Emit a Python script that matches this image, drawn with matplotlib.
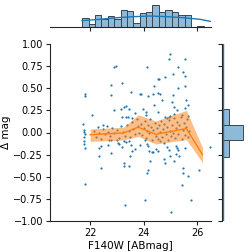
import matplotlib
matplotlib.use("Agg")
import matplotlib.pyplot as plt
import numpy as np

plt.rcParams['font.family'] = ['DejaVu Sans']

# ---------------- data ----------------
scatter_x = [
    24.98, 24.95, 25.55, 22.96, 22.88, 24.13, 25.29, 25.46, 25.10, 25.55, 24.80, 24.52, 24.56,
    22.77, 23.18, 24.39, 25.55, 25.29, 21.79, 21.79, 22.77, 23.53, 23.86, 23.90, 24.18, 24.36,
    24.54, 24.60, 25.11, 24.69, 25.59, 25.08, 23.33, 24.39, 25.66,
    22.06, 21.75,
    22.90, 23.15, 23.26, 23.45, 23.20, 23.33, 23.42, 23.57, 23.67, 23.96, 24.10, 24.10,
    24.54, 24.80, 24.88, 24.95, 25.14, 25.14, 25.26, 25.54, 25.66, 26.49,
    21.78, 21.78, 21.79, 21.78, 21.77, 21.78, 21.79, 21.80,
    22.35, 22.42, 22.65, 22.72, 22.78, 23.03, 23.08, 23.20, 23.28, 23.36, 23.45, 23.53, 23.56,
    23.69, 23.86, 24.05, 24.12, 24.17, 24.22, 24.30, 24.48, 24.55, 24.75, 24.87, 24.95, 25.20,
    25.26, 25.30, 25.54,
    22.33, 22.79, 23.50, 24.36, 22.42, 23.26, 23.26, 23.46, 24.24, 24.15, 24.12, 24.77, 24.80,
    24.98, 25.20, 25.32, 25.13, 25.48, 25.48, 25.65, 26.06, 25.44, 24.05, 23.32, 25.77, 25.04,
    22.15, 22.22, 22.28, 22.35, 22.41, 22.48, 22.55, 22.62, 22.68, 22.74, 22.83, 22.88,
    23.02, 23.08, 23.14, 23.22, 23.30, 23.38, 23.44, 23.50, 23.56, 23.62, 23.68, 23.74, 23.78, 23.84,
    23.90, 23.95, 24.00, 24.04, 24.08, 24.13, 24.18, 24.22, 24.27, 24.32, 24.36, 24.41, 24.45, 24.50,
    24.55, 24.58, 24.62, 24.66, 24.70, 24.73, 24.78, 24.82, 24.86, 24.90, 24.94, 24.98, 25.02, 25.06,
    25.10, 25.14, 25.18, 25.22, 25.26, 25.30, 25.34, 25.38, 25.42, 25.46, 25.50, 25.54, 25.58,
    25.62, 25.66, 25.70,
    24.25, 24.60, 25.00, 25.45, 23.00, 22.50,
]
scatter_y = [
    0.887, 0.827, 0.83, 0.755, 0.74, 0.74, 0.736, 0.68, 0.665, 0.64, 0.627, 0.60, 0.60,
    0.54, 0.56, 0.53, 0.52, 0.507, 0.43, 0.415, 0.42, 0.454, 0.44, 0.44, 0.41, 0.44,
    0.445, 0.44, 0.42, 0.37, 0.367, 0.34, 0.30, 0.31, 0.31,
    0.20, 0.096,
    0.254, 0.27, 0.29, 0.265, 0.17, 0.175, 0.18, 0.16, 0.217, 0.265, 0.23, 0.20,
    0.23, 0.17, 0.165, 0.17, 0.29, 0.21, 0.25, 0.277, 0.19, -0.167,
    0.03, 0.01, -0.017, -0.047, -0.093, -0.13, -0.18, -0.585,
    -0.18, -0.15, -0.14, -0.09, -0.09, -0.12, -0.125, -0.16, -0.10, -0.11, -0.095, -0.14, -0.205,
    -0.19, -0.137, -0.09, -0.13, -0.15, -0.205, -0.22, -0.19, -0.205, -0.12, -0.165, -0.20, -0.15,
    -0.175, -0.20, -0.175,
    -0.27, -0.23, -0.27, -0.22, -0.40, -0.345, -0.38, -0.38, -0.325, -0.42, -0.46, -0.30, -0.345,
    -0.265, -0.24, -0.265, -0.32, -0.40, -0.455, -0.49, -0.42, -0.59, -0.76, -0.815, -0.76, -0.90,
    0.02, -0.05, 0.06, 0.00, -0.07, 0.04, -0.02, 0.07, 0.01, -0.04, 0.05, -0.01,
    0.03, -0.06, 0.07, 0.01, -0.04, 0.09, 0.02, -0.05, 0.12, 0.04, -0.02, 0.15, 0.07, 0.00,
    0.10, -0.03, 0.05, 0.13, -0.06, 0.02, 0.09, -0.01, 0.06, -0.08, 0.03, 0.11, -0.04, 0.05,
    -0.07, 0.08, 0.01, 0.13, -0.05, 0.04, 0.10, -0.02, 0.06, -0.09, 0.14, 0.02, -0.04, 0.09,
    0.00, 0.16, -0.06, 0.05, 0.12, -0.02, 0.08, 0.18, -0.07, 0.03, 0.11, -0.03, 0.06,
    0.15, -0.05, 0.02,
    0.15, -0.10, 0.19, 0.20, -0.08, 0.08,
]

# binned running median and its confidence band
trend_x = [22.0, 23.25, 23.8, 24.45, 25.6, 26.2]
trend_y = [-0.025, -0.005, 0.06, -0.02, 0.045, -0.25]
trend_lo = [-0.10, -0.085, -0.045, -0.13, -0.08, -0.34]
trend_hi = [0.04, 0.06, 0.20, 0.13, 0.25, -0.17]

# top marginal histogram (F140W)
top_edges = [21.70, 21.94, 22.18, 22.42, 22.66, 22.90, 23.14, 23.38, 23.62, 23.86, 24.10,
             24.33, 24.57, 24.81, 25.05, 25.29, 25.53, 25.77, 26.01, 26.25, 26.49]
top_counts = [8, 2, 10, 7, 9, 7, 15, 14, 3, 12, 13, 19, 13, 15, 13, 10, 10, 0, 1, 0]
top_kde_x = [21.70, 22.37, 23.01, 23.61, 24.24, 24.88, 25.48, 26.11, 26.49]
top_kde_y = [5.3, 6.5, 7.9, 8.8, 9.4, 8.8, 7.9, 6.5, 4.7]

# right marginal histogram (delta mag)
right_edges = [-0.277, -0.085, 0.085, 0.265]
right_counts = [38, 115, 38]
right_kde_y = [-1.0, 1.0]
right_kde_x = [7.0, 7.0]

xticks = [22, 24, 26]
yticks = [-1.0, -0.75, -0.5, -0.25, 0.0, 0.25, 0.5, 0.75, 1.0]

# ---------------- figure ----------------
W, H = 249, 252
fig = plt.figure(figsize=(W / 100, H / 100), dpi=100)

def box(l, r, t, b):
    return [l / W, 1 - b / H, (r - l) / W, (b - t) / H]

ax = fig.add_axes(box(50, 211, 44, 221))
axt = fig.add_axes(box(50, 211, 4, 26.7))
axr = fig.add_axes(box(222, 244, 44, 221))

c0 = '#1f77b4'
c1 = '#ff7f0e'
spine_c = '#262626'
edge_c = '#3a4650'

XLIM = (20.5, 26.52)
YLIM = (-1, 1)

ax.scatter(scatter_x, scatter_y, s=2.5, color=c0, lw=0, zorder=2)
ax.fill_between(trend_x, trend_lo, trend_hi, color=c1, alpha=0.5, lw=0, zorder=3)
ax.plot(trend_x, trend_y, color=c1, lw=1.0, zorder=4)

ax.set_xlim(*XLIM)
ax.set_ylim(*YLIM)
ax.set_xticks(xticks)
ax.set_yticks(yticks)
ax.set_yticklabels([f"{v:.2f}".replace('-', '\u2212') for v in yticks])
ax.tick_params(labelsize=7, length=3, width=0.8, color=spine_c, pad=2)
ax.set_xlabel("F140W [ABmag]", fontsize=7.5, labelpad=2)
ax.set_ylabel("\u0394 mag", fontsize=7.5, labelpad=2)
for s in ['top', 'right']:
    ax.spines[s].set_visible(False)
for s in ['left', 'bottom']:
    ax.spines[s].set_color(spine_c)
    ax.spines[s].set_linewidth(0.8)

# top marginal
widths = np.diff(top_edges)
axt.bar(top_edges[:-1], top_counts, width=widths, align='edge',
        color=c0, alpha=0.5, edgecolor='none')
axt.bar(top_edges[:-1], top_counts, width=widths, align='edge',
        fill=False, edgecolor=edge_c, lw=0.7)
axt.plot(top_kde_x, top_kde_y, color=c0, lw=1.0)
axt.set_xlim(*XLIM)
axt.set_xticks(xticks)
axt.set_ylim(0, max(top_counts) * 1.05)
axt.tick_params(axis='x', labelbottom=False, length=3, width=0.8, color=spine_c)
axt.tick_params(axis='y', left=False, labelleft=False)
for s in ['top', 'right', 'left']:
    axt.spines[s].set_visible(False)
axt.spines['bottom'].set_color(spine_c)
axt.spines['bottom'].set_linewidth(0.8)

# right marginal
heights = np.diff(right_edges)
axr.barh(right_edges[:-1], right_counts, height=heights, align='edge',
         color=c0, alpha=0.5, edgecolor='none')
axr.barh(right_edges[:-1], right_counts, height=heights, align='edge',
         fill=False, edgecolor=edge_c, lw=0.7)
axr.plot(right_kde_x, right_kde_y, color=c0, lw=1.0)
axr.set_ylim(*YLIM)
axr.set_yticks(yticks)
axr.set_xlim(0, max(right_counts) * 1.05)
axr.tick_params(axis='y', labelleft=False, length=3, width=0.8, color=spine_c)
axr.tick_params(axis='x', bottom=False, labelbottom=False)
for s in ['top', 'right', 'bottom']:
    axr.spines[s].set_visible(False)
axr.spines['left'].set_color(spine_c)
axr.spines['left'].set_linewidth(0.8)

fig.savefig("out.png", dpi=100)
